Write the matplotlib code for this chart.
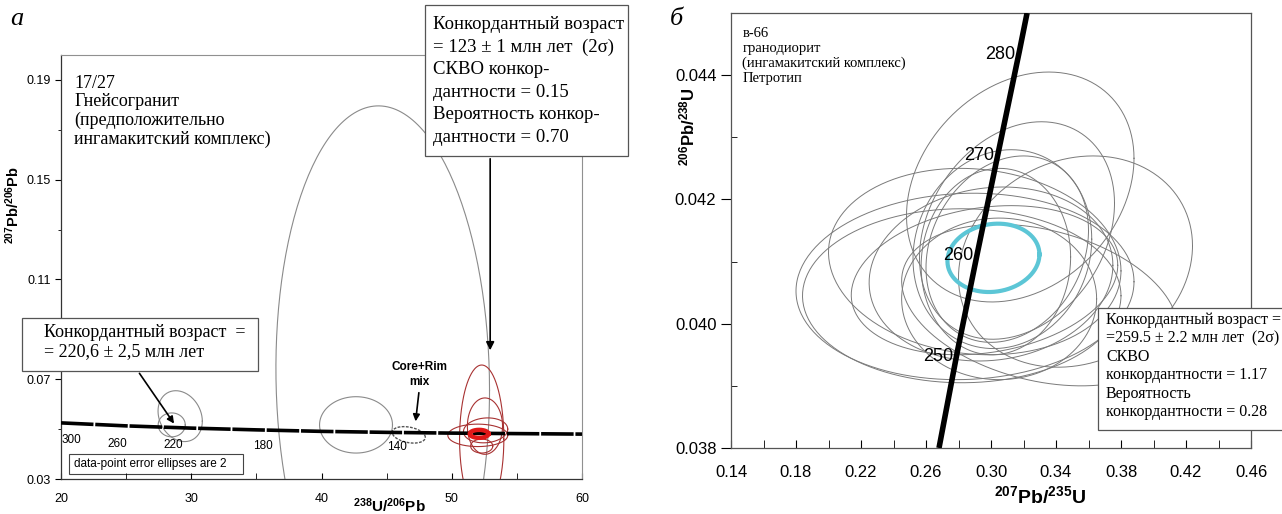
import numpy as np
import matplotlib
matplotlib.use('Agg')
import matplotlib.pyplot as plt
from matplotlib.patches import Rectangle
from matplotlib.ticker import MultipleLocator

plt.rcParams['font.family'] = ['Liberation Sans', 'DejaVu Sans']
plt.rcParams['mathtext.fontset'] = 'custom'
plt.rcParams['mathtext.bf'] = 'Liberation Sans:bold'
plt.rcParams['mathtext.rm'] = 'Liberation Sans'

W, H = 1282, 514

# ---- panel a: Tera-Wasserburg ----
tw_conc_x = [20, 25, 30, 35, 40, 45, 50, 55, 60]
tw_conc_y = [0.0525, 0.0513, 0.0504, 0.0497, 0.0491, 0.0487, 0.0484, 0.0482, 0.0480]
tw_age_labels = ['300', '260', '220', '180', '140']
tw_age_x = [20.8, 24.3, 28.6, 35.5, 45.8]
tw_age_y = [0.0455, 0.0442, 0.0436, 0.0432, 0.0428]
tw_xticks = [20, 30, 40, 50, 60]
tw_yticks = [0.03, 0.07, 0.11, 0.15, 0.19]
tw_yticks_minor = [0.05, 0.09, 0.13, 0.17]

# grey ellipses: centre x, centre y, half-width, half-height, correlation
grey_cx = [44.7, 28.5, 29.15, 42.65]
grey_cy = [0.070, 0.0517, 0.0552, 0.0517]
grey_sx = [8.2, 1.04, 1.7, 2.8]
grey_sy = [0.1096, 0.0048, 0.0102, 0.0113]
grey_rho = [-0.04, 0.0, -0.2, 0.0]

# core+rim mix ellipse (dashed)
mix_cx, mix_cy, mix_sx, mix_sy, mix_rho = 46.7, 0.0477, 1.27, 0.0033, -0.3

# red ellipses
red_cx = [52.3, 52.55, 52.0, 52.6, 52.3]
red_cy = [0.046, 0.0512, 0.0475, 0.0495, 0.0432]
red_sx = [1.7, 1.35, 2.3, 1.7, 0.85]
red_sy = [0.0297, 0.0113, 0.0045, 0.0050, 0.0028]
red_rho = [0.0, 0.0, 0.0, 0.1, 0.0]
# concordant age ellipse (thick red)
age_a = (52.1, 0.0481, 0.72, 0.0016)

# ---- panel b: Wetherill ----
wc_x = [0.268, 0.2792, 0.2918, 0.3046, 0.3175, 0.3222]
wc_y = [0.0380, 0.03954, 0.04116, 0.04277, 0.04439, 0.0450]
wc_age_labels = ['250', '260', '270', '280']
wc_age_x = [0.2792, 0.2918, 0.3046, 0.3175]
wc_age_y = [0.03954, 0.04116, 0.04277, 0.04439]
wc_xticks = [0.14, 0.18, 0.22, 0.26, 0.30, 0.34, 0.38, 0.42, 0.46]
wc_yticks = [0.038, 0.040, 0.042, 0.044]
wc_yticks_minor = [0.039, 0.041, 0.043]

b_cx = [0.318, 0.316, 0.310, 0.352, 0.284, 0.282, 0.290, 0.300, 0.305, 0.307, 0.303, 0.330, 0.296]
b_cy = [0.04220, 0.04150, 0.04120, 0.04100, 0.04060, 0.04045, 0.04100, 0.04080, 0.04040, 0.04120, 0.04100, 0.04030, 0.04070]
b_sx = [0.070, 0.060, 0.050, 0.072, 0.104, 0.098, 0.090, 0.075, 0.060, 0.055, 0.046, 0.085, 0.082]
b_sy = [0.00185, 0.00175, 0.00150, 0.00170, 0.00150, 0.00140, 0.00150, 0.00140, 0.00130, 0.00160, 0.00150, 0.00130, 0.00120]
b_rho = [0.25, 0.25, 0.2, 0.15, 0.05, 0.0, -0.1, 0.1, 0.0, 0.1, 0.05, -0.3, 0.2]

# concordia age ellipse (cyan)
age_b = (0.3015, 0.04106, 0.0283, 0.00055, 0.1)


def ellipse_xy(cx, cy, sx, sy, rho, n=240):
    t = np.linspace(0, 2 * np.pi, n)
    x = cx + sx * np.cos(t)
    y = cy + sy * (rho * np.cos(t) + np.sqrt(1 - rho ** 2) * np.sin(t))
    return x, y


def fx(px):
    return px / W


def fy(py):
    return 1 - py / H


fig = plt.figure(figsize=(W / 100, H / 100), dpi=100)

# ================= panel a =================
ax1 = fig.add_axes([fx(61), fy(479), fx(582) - fx(61), fy(55) - fy(479)])
ax1.set_xlim(20, 60)
ax1.set_ylim(0.03, 0.20)

for cx, cy, sx, sy, r in zip(grey_cx, grey_cy, grey_sx, grey_sy, grey_rho):
    x, y = ellipse_xy(cx, cy, sx, sy, r)
    ax1.plot(x, y, color='#8a8a8a', lw=0.8)

x, y = ellipse_xy(mix_cx, mix_cy, mix_sx, mix_sy, mix_rho)
ax1.plot(x, y, color='#555555', lw=1.0, ls=(0, (2, 1)))

for cx, cy, sx, sy, r in zip(red_cx, red_cy, red_sx, red_sy, red_rho):
    x, y = ellipse_xy(cx, cy, sx, sy, r)
    ax1.plot(x, y, color='#a83232', lw=0.8)

ax1.plot(tw_conc_x, tw_conc_y, color='black', lw=2.6, ls=(0, (9, 0.5)), zorder=5)

x, y = ellipse_xy(*age_a, 0.0)
ax1.plot(x, y, color='#e01818', lw=3.2, zorder=6)

for lab, x, y in zip(tw_age_labels, tw_age_x, tw_age_y):
    ax1.text(x, y, lab, fontsize=8.5, ha='center', va='center')

ax1.set_xticks(tw_xticks)
ax1.xaxis.set_minor_locator(MultipleLocator(5))
ax1.set_yticks(tw_yticks)
ax1.set_yticks(tw_yticks_minor, minor=True)
ax1.set_yticklabels([f'{v:.2f}' for v in tw_yticks])
ax1.tick_params(axis='x', which='both', direction='in', length=4, labelsize=9, pad=10)
ax1.tick_params(axis='y', which='major', direction='out', length=4, labelsize=9)
ax1.tick_params(axis='y', which='minor', direction='out', length=2)
for s in ['top', 'right']:
    ax1.spines[s].set_color('#909090')
    ax1.spines[s].set_linewidth(0.8)
for s in ['left', 'bottom']:
    ax1.spines[s].set_color('#333333')
    ax1.spines[s].set_linewidth(0.9)

ax1.set_xlabel(r'$\mathbf{^{238}U/^{206}Pb}$', fontsize=11)
ax1.xaxis.set_label_coords((389 - 61) / (582 - 61), -0.04)
ax1.set_ylabel(r'$\mathbf{^{207}Pb/^{206}Pb}$', fontsize=10.5)
ax1.yaxis.set_label_coords(-0.075, (479 - 205) / (479 - 55))

ax1.text(21.0, 0.192, '17/27\nГнейсогранит\n(предположительно\nингамакитский комплекс)',
         family='Liberation Serif', fontsize=13, va='top', ha='left', linespacing=1.1)

ax1.text(47.5, 0.0718, 'Core+Rim\nmix', fontsize=8.5, fontweight='bold', ha='center', va='center',
         linespacing=1.3)
ax1.annotate('', xy=(47.2, 0.0520), xytext=(47.5, 0.0657),
             arrowprops=dict(arrowstyle='-|>', color='black', lw=1.2, mutation_scale=10))

# arrows from the text boxes
ax1.annotate('', xy=(52.95, 0.0805), xytext=(52.95, 0.1595),
             arrowprops=dict(arrowstyle='-|>', color='black', lw=1.2, mutation_scale=12))
ax1.annotate('', xy=(28.8, 0.0513), xytext=(25.9, 0.0733),
             arrowprops=dict(arrowstyle='-|>', color='black', lw=1.2, mutation_scale=10))

# data-point box
ax1.add_patch(Rectangle((20.6, 0.0322), 13.4, 0.0078, facecolor='white', edgecolor='#444444', lw=0.8))
ax1.text(21.0, 0.0362, 'data-point error ellipses are 2', fontsize=8.5, va='center', ha='left')

# figure-level boxes
fig.add_artist(Rectangle((fx(425), fy(156)), fx(628) - fx(425), fy(5) - fy(156),
                         transform=fig.transFigure, facecolor='white', edgecolor='#555555', lw=0.9))
fig.text(fx(433), fy(16), 'Конкордантный возраст\n= 123 ± 1 млн лет  (2σ)\nСКВО конкор-\n'
         'дантности = 0.15\nВероятность конкор-\nдантности = 0.70',
         family='Liberation Serif', fontsize=13.5, va='top', ha='left', linespacing=1.42)

fig.add_artist(Rectangle((fx(22), fy(371)), fx(258) - fx(22), fy(318) - fy(371),
                         transform=fig.transFigure, facecolor='white', edgecolor='#555555', lw=0.9))
fig.text(fx(44), fy(324), 'Конкордантный возраст  =\n= 220,6 ± 2,5 млн лет',
         family='Liberation Serif', fontsize=13, va='top', ha='left', linespacing=1.15)

fig.text(fx(10), fy(8), 'а', family='Liberation Serif', style='italic', fontsize=19, va='top')

# ================= panel b =================
ax2 = fig.add_axes([fx(731), fy(448), fx(1251) - fx(731), fy(13) - fy(448)])
ax2.set_xlim(0.14, 0.46)
ax2.set_ylim(0.038, 0.045)

for cx, cy, sx, sy, r in zip(b_cx, b_cy, b_sx, b_sy, b_rho):
    x, y = ellipse_xy(cx, cy, sx, sy, r)
    ax2.plot(x, y, color='#7a7a7a', lw=0.7)

x, y = ellipse_xy(*age_b)
ax2.plot(x, y, color='#5cc6d6', lw=3, zorder=4)

ax2.plot(wc_x, wc_y, color='black', lw=4, zorder=5, solid_capstyle='butt')
for lab, x, y in zip(wc_age_labels, wc_age_x, wc_age_y):
    ax2.text(x - 0.0025, y - 0.00006, lab, fontsize=13, ha='right', va='center', zorder=6)

ax2.set_xticks(wc_xticks)
ax2.set_xticklabels([f'{v:.2f}' for v in wc_xticks])
ax2.xaxis.set_minor_locator(MultipleLocator(0.02))
ax2.set_yticks(wc_yticks)
ax2.set_yticks(wc_yticks_minor, minor=True)
ax2.set_yticklabels([f'{v:.3f}' for v in wc_yticks])
ax2.tick_params(axis='x', which='both', direction='in', length=6, labelsize=12, pad=12)
ax2.tick_params(axis='y', which='major', direction='out', length=7, labelsize=12)
ax2.tick_params(axis='y', which='minor', direction='in', length=4)
for s in ax2.spines.values():
    s.set_color('#555555')
    s.set_linewidth(0.9)

ax2.set_xlabel(r'$\mathbf{^{207}Pb/^{235}U}$', fontsize=14)
ax2.xaxis.set_label_coords((1040 - 731) / (1251 - 731), -0.085)
ax2.set_ylabel(r'$\mathbf{^{206}Pb/^{238}U}$', fontsize=12)
ax2.yaxis.set_label_coords(-0.065, (448 - 127) / (448 - 13))

ax2.text(0.147, 0.04478, 'в-66\nгранодиорит\n(ингамакитский комплекс)\nПетротип',
         family='Liberation Serif', fontsize=10.5, va='top', ha='left', linespacing=1.2)

fig.add_artist(Rectangle((fx(1098), fy(430)), fx(1300) - fx(1098), fy(308) - fy(430),
                         transform=fig.transFigure, facecolor='white', edgecolor='#555555', lw=0.9,
                         clip_on=False))
fig.text(fx(1106), fy(312), 'Конкордантный возраст =\n=259.5 ± 2.2 млн лет  (2σ)\nСКВО\n'
         'конкордантности = 1.17\nВероятность\nконкордантности = 0.28',
         family='Liberation Serif', fontsize=11.5, va='top', ha='left', linespacing=1.2)

fig.text(fx(670), fy(8), 'б', family='Liberation Serif', style='italic', fontsize=19, va='top')

fig.savefig('out.png', dpi=100)
